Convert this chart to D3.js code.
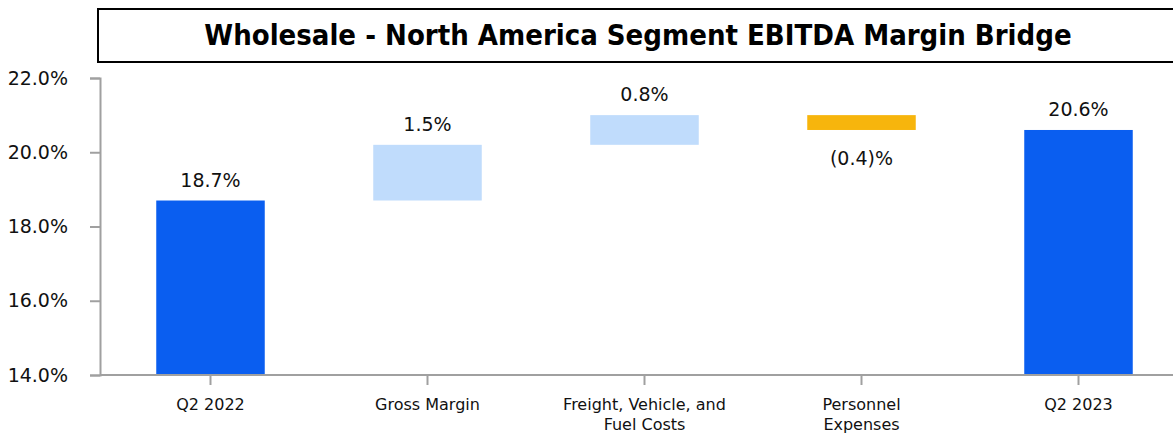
<!DOCTYPE html>
<html>
<head>
<meta charset="utf-8">
<script src="https://cdn.jsdelivr.net/npm/d3@7"></script>
<style>
  body { margin: 0; background: #fff; overflow: hidden; }
  svg { display: block; font-family: Tahoma, "DejaVu Sans", sans-serif; }
  svg text { font-family: Tahoma, "DejaVu Sans", sans-serif; }
  svg text.ttl { font-family: "DejaVu Sans Condensed", "DejaVu Sans", sans-serif; }
</style>
</head>
<body>
<div id="chart"></div>
<script>
var title = "Wholesale - North America Segment EBITDA Margin Bridge";
var categories = ["Q2 2022", "Gross Margin", "Freight, Vehicle, and Fuel Costs", "Personnel Expenses", "Q2 2023"];
var categoryLines = [["Q2 2022"], ["Gross Margin"], ["Freight, Vehicle, and", "Fuel Costs"], ["Personnel", "Expenses"], ["Q2 2023"]];
var values = [18.7, 1.5, 0.8, -0.4, 20.6];
var kinds = ["total", "delta", "delta", "delta", "total"];
var valueLabels = ["18.7%", "1.5%", "0.8%", "(0.4)%", "20.6%"];
var yTicks = [14, 16, 18, 20, 22];

var colors = {total: "#0a5ef0", up: "#c0dcfc", down: "#f7b50c"};

var width = 1173, height = 434;
var margin = {top: 78, left: 100, bottom: 59};

// running totals for the bridge
var run = 0;
var data = categories.map(function(c, i) {
  var d = {cat: c, lines: categoryLines[i], label: valueLabels[i], kind: kinds[i]};
  if (kinds[i] == "total") {
    d.y0 = yTicks[0]; d.y1 = values[i]; run = values[i];
  } else {
    d.y0 = run; d.y1 = run + values[i]; run = d.y1;
  }
  d.lo = Math.min(d.y0, d.y1); d.hi = Math.max(d.y0, d.y1);
  d.color = kinds[i] == "total" ? colors.total : (values[i] >= 0 ? colors.up : colors.down);
  return d;
});

var svg = d3.select("#chart").append("svg")
    .attr("width", width)
    .attr("height", height);

// title box
svg.append("rect")
    .attr("x", 98).attr("y", 9)
    .attr("width", 1100).attr("height", 53)
    .attr("fill", "none")
    .attr("stroke", "#000")
    .attr("stroke-width", 2);
svg.append("text")
    .attr("class", "ttl")
    .attr("x", 638).attr("y", 45)
    .attr("text-anchor", "middle")
    .style("font-weight", "bold")
    .style("font-size", "29px")
    .text(title);

var y = d3.scaleLinear().domain([14, 22]).range([375, 78]);
var x = d3.scaleBand().domain(categories).range([102, 1187])
    .paddingInner(0.5).paddingOuter(0.25);

// y axis
var yAxis = svg.append("g")
    .attr("transform", "translate(" + margin.left + ",0)")
    .call(d3.axisLeft(y).tickValues(yTicks).tickSize(10).tickPadding(22)
      .tickFormat(function(d) { return d.toFixed(1) + "%"; }));
yAxis.select(".domain").attr("stroke", "#a0a0a0").attr("stroke-width", 2);
yAxis.selectAll(".tick line").attr("stroke", "#a0a0a0").attr("stroke-width", 2);
yAxis.selectAll("text").style("font-size", "19px").attr("fill", "#111");

// bars
svg.selectAll(".bar")
    .data(data)
    .enter().append("rect")
    .attr("class", "bar")
    .attr("x", function(d) { return x(d.cat); })
    .attr("width", x.bandwidth())
    .attr("y", function(d) { return y(d.hi); })
    .attr("height", function(d) { return y(d.lo) - y(d.hi); })
    .attr("fill", function(d) { return d.color; });

// x axis
svg.append("line")
    .attr("x1", margin.left).attr("x2", width)
    .attr("y1", y(14)).attr("y2", y(14))
    .attr("stroke", "#a0a0a0").attr("stroke-width", 2);
var xAxis = svg.append("g")
    .attr("transform", "translate(0,375)")
    .call(d3.axisBottom(x).tickSize(10).tickFormat(""));
xAxis.select(".domain").remove();
xAxis.selectAll(".tick line").attr("stroke", "#a0a0a0").attr("stroke-width", 2);

svg.selectAll(".catlabel")
    .data(data)
    .enter().append("text")
    .attr("class", "catlabel")
    .attr("text-anchor", "middle")
    .style("font-size", "16px")
    .attr("fill", "#111")
    .each(function(d) {
      var t = d3.select(this);
      d.lines.forEach(function(l, j) {
        t.append("tspan")
          .attr("x", x(d.cat) + x.bandwidth() / 2)
          .attr("y", 410 + j * 20)
          .text(l);
      });
    });

// value labels
svg.selectAll(".vlabel")
    .data(data)
    .enter().append("text")
    .attr("class", "vlabel")
    .attr("text-anchor", "middle")
    .attr("x", function(d) { return x(d.cat) + x.bandwidth() / 2; })
    .attr("y", function(d) {
      if (d.kind == "delta" && d.y1 < d.y0) return y(d.lo) + 35;
      return y(d.hi) - 14;
    })
    .style("font-size", "19px")
    .attr("fill", "#111")
    .text(function(d) { return d.label; });
</script>
</body>
</html>
